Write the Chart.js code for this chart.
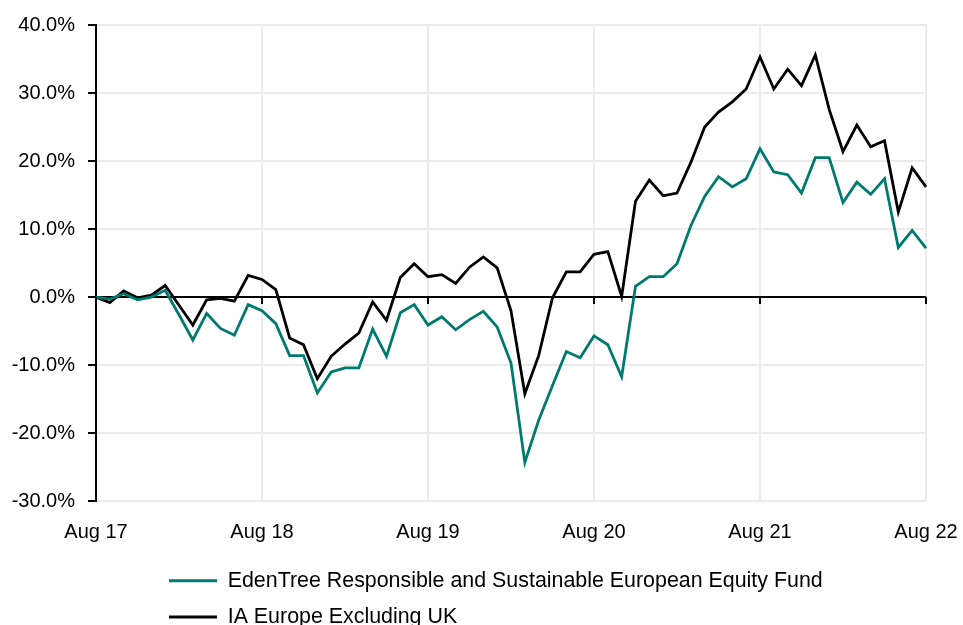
<!DOCTYPE html>
<html>
<head>
<meta charset="utf-8">
<script src="https://cdn.jsdelivr.net/npm/chart.js@4.4.0/dist/chart.umd.min.js"></script>
<style>
  html, body { margin: 0; background: #fff; }
  #wrap { width: 963px; height: 625px; }
</style>
</head>
<body>
<div id="wrap"><canvas id="perfChart"></canvas></div>
<script>
// ── Data ─────────────────────────────────────────────────────
const months = [
  'Aug 17', 'Sep 17', 'Oct 17', 'Nov 17', 'Dec 17', 'Jan 18', 'Feb 18', 'Mar 18', 'Apr 18', 'May 18', 'Jun 18', 'Jul 18',
  'Aug 18', 'Sep 18', 'Oct 18', 'Nov 18', 'Dec 18', 'Jan 19', 'Feb 19', 'Mar 19', 'Apr 19', 'May 19', 'Jun 19', 'Jul 19',
  'Aug 19', 'Sep 19', 'Oct 19', 'Nov 19', 'Dec 19', 'Jan 20', 'Feb 20', 'Mar 20', 'Apr 20', 'May 20', 'Jun 20', 'Jul 20',
  'Aug 20', 'Sep 20', 'Oct 20', 'Nov 20', 'Dec 20', 'Jan 21', 'Feb 21', 'Mar 21', 'Apr 21', 'May 21', 'Jun 21', 'Jul 21',
  'Aug 21', 'Sep 21', 'Oct 21', 'Nov 21', 'Dec 21', 'Jan 22', 'Feb 22', 'Mar 22', 'Apr 22', 'May 22', 'Jun 22', 'Jul 22',
  'Aug 22',
];

const yearTicks = ['Aug 17', 'Aug 18', 'Aug 19', 'Aug 20', 'Aug 21', 'Aug 22'];

// cumulative performance, %
const edenTree = [
  0.0, -0.3, 0.5, -0.4, 0.0, 1.0, -2.6, -6.3, -2.4, -4.6, -5.6, -1.1,
  -2.0, -3.9, -8.6, -8.6, -14.1, -11.0, -10.4, -10.4, -4.7, -8.7, -2.3, -1.1,
  -4.1, -2.9, -4.8, -3.3, -2.1, -4.4, -9.7, -24.3, -18.1, -13.0, -8.0, -8.9,
  -5.7, -7.0, -11.7, 1.6, 3.0, 3.0, 4.9, 10.5, 14.8, 17.7, 16.2, 17.4,
  21.8, 18.4, 18.0, 15.3, 20.5, 20.5, 13.9, 16.9, 15.1, 17.4, 7.3, 9.8,
  7.2,
];

const iaEurope = [
  0.0, -0.8, 0.9, -0.1, 0.3, 1.7, -1.2, -4.1, -0.4, -0.2, -0.6, 3.2,
  2.6, 1.1, -6.0, -7.0, -12.0, -8.7, -6.9, -5.3, -0.7, -3.4, 2.9, 4.9,
  3.0, 3.3, 2.0, 4.4, 5.9, 4.3, -2.0, -14.2, -8.6, -0.1, 3.7, 3.7,
  6.3, 6.7, 0.1, 14.1, 17.2, 14.9, 15.3, 19.8, 25.0, 27.2, 28.7, 30.6,
  35.3, 30.6, 33.5, 31.1, 35.6, 27.6, 21.4, 25.3, 22.1, 23.0, 12.5, 19.0,
  16.2,
];

// ── Style ────────────────────────────────────────────────────
const TEAL = '#00796f';
const GRID = '#ebebeb';
const FONT = "'Liberation Sans', Arial, sans-serif";

// little tick marks hanging off the zero line at each year
const zeroTicks = {
  id: 'zeroTicks',
  afterDatasetsDraw(chart) {
    const { ctx, scales: { x, y } } = chart;
    const y0 = y.getPixelForValue(0);
    ctx.save();
    ctx.strokeStyle = '#000';
    ctx.lineWidth = 2;
    yearTicks.forEach(lbl => {
      const px = x.getPixelForValue(months.indexOf(lbl));
      ctx.beginPath();
      ctx.moveTo(px, y0);
      ctx.lineTo(px, y0 + 7);
      ctx.stroke();
    });
    ctx.restore();
  },
};

// stack the legend on the left, like the original
const legendPlace = {
  id: 'legendPlace',
  afterLayout(chart) {
    chart.legend.left = 154;
    chart.legend.top = 555;
  },
};

const chart = new Chart(document.getElementById('perfChart'), {
  type: 'line',
  data: {
    labels: months,
    datasets: [
      {
        label: 'EdenTree Responsible and Sustainable European Equity Fund',
        data: edenTree,
        borderColor: TEAL,
        backgroundColor: TEAL,
        borderWidth: 2.8,
        pointRadius: 0,
        tension: 0,
      },
      {
        label: 'IA Europe Excluding UK',
        data: iaEurope,
        borderColor: '#000',
        backgroundColor: '#000',
        borderWidth: 2.8,
        pointRadius: 0,
        tension: 0,
      },
    ],
  },
  options: {
    responsive: true,
    maintainAspectRatio: false,
    animation: false,
    layout: { padding: { top: 24, right: 37, bottom: 0, left: 0 } },
    scales: {
      x: {
        ticks: {
          color: '#000',
          font: { family: FONT, size: 20 },
          autoSkip: false,
          maxRotation: 0,
          padding: 19,
          callback(value) {
            const l = this.getLabelForValue(value);
            return yearTicks.includes(l) ? l : null;
          },
        },
        grid: { color: GRID, lineWidth: 2, drawTicks: false },
        border: { display: false },
        afterFit: s => {
          s.height = 41;
          s.paddingLeft = 0;
          s.paddingRight = 0;
        },
      },
      y: {
        min: -30,
        max: 40,
        ticks: {
          stepSize: 10,
          color: '#000',
          font: { family: FONT, size: 20 },
          padding: 13,
          callback: v => v.toFixed(1) + '%',
        },
        grid: {
          color: c => (c.tick && c.tick.value === 0 ? '#000' : GRID),
          lineWidth: 2,
          tickColor: '#000',
          tickLength: 8,
          tickWidth: 2,
        },
        border: { color: '#000', width: 2 },
        afterFit: s => { s.width = 96; },
      },
    },
    plugins: {
      legend: {
        position: 'bottom',
        align: 'start',
        labels: {
          color: '#000',
          font: { family: FONT, size: 21.4 },
          boxWidth: 48,
          boxHeight: 3,
          padding: 15,
          generateLabels: c =>
            Chart.defaults.plugins.legend.labels.generateLabels(c)
              .map(l => ({ ...l, lineWidth: 0 })),
        },
      },
      tooltip: { enabled: false },
    },
  },
  plugins: [zeroTicks, legendPlace],
});
</script>
</body>
</html>
